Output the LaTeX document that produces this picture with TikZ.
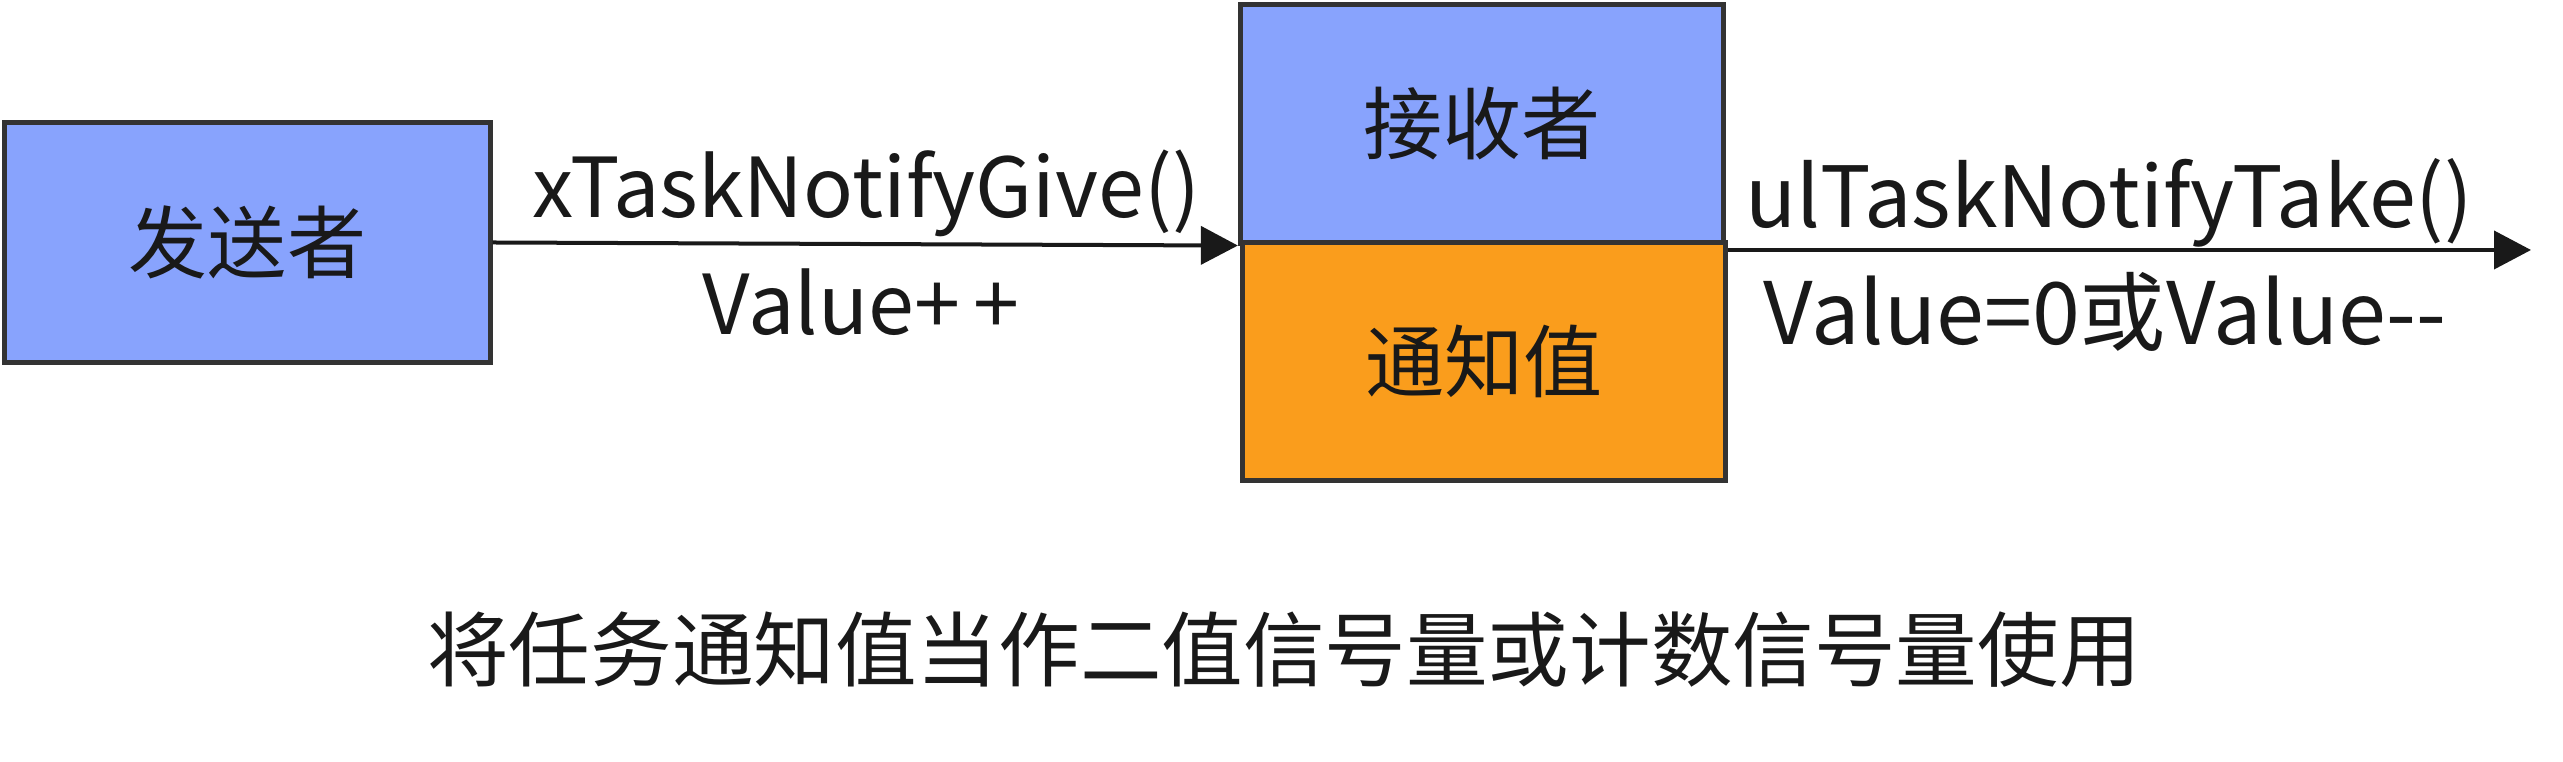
\documentclass[tikz,border=0pt]{standalone}
\usepackage{fontspec}
\setmainfont{Noto Sans CJK SC}
\usepackage{tikz}
\usetikzlibrary{arrows.meta, positioning}
\definecolor{taskblue}{RGB}{136,163,253}
\definecolor{valorange}{RGB}{250,157,28}
\definecolor{edgegray}{RGB}{51,51,51}

\begin{document}
\begin{tikzpicture}[x=0.01cm, y=-0.01cm,
  taskbox/.style={draw=edgegray, line width=0.05cm, minimum width=4.83cm,
                  minimum height=2.38cm, inner sep=0pt, text=black!90,
                  font=\fontsize{22.5pt}{27pt}\selectfont},
  flowline/.style={draw=black!90, line width=0.04cm,
                   -{Triangle[length=0.37cm, width=0.38cm]}},
  msg/.style={anchor=base, inner sep=0pt, text=black!90,
              font=\fontsize{23.5pt}{28pt}\selectfont}
]
\useasboundingbox (0,0) rectangle (2563,762);

\node[taskbox, fill=taskblue, minimum width=4.85cm, minimum height=2.39cm] (sender) at (247.5,242.5) {发送者};
\node[taskbox, fill=taskblue] (receiver) at (1482,124) {接收者};
\node[taskbox, fill=valorange, minimum height=2.37cm] (notifyval) at (1484,361.5) {通知值};

\coordinate (takeend) at (2531,250);
\draw[flowline] (sender.east) -- (receiver.south west);
\draw[flowline] (notifyval.north east |- takeend) -- (takeend);

\node[msg] (givecall) at (866,218) {xTaskNotifyGive()};
\node[msg] (giveinc) at (861,335) {Value+\,+};
\node[msg, font=\fontsize{24pt}{28pt}\selectfont] (takecall) at (2109,228) {ulTaskNotifyTake()};
\node[msg, font=\fontsize{24.5pt}{28pt}\selectfont] (takedec) at (2105,345) {Value=0或Value\mbox{-}\mbox{-}};

\node[font=\fontsize{23.2pt}{28pt}\selectfont, text=black!90] (caption) at (1284,650)
  {将任务通知值当作二值信号量或计数信号量使用};
\end{tikzpicture}
\end{document}
